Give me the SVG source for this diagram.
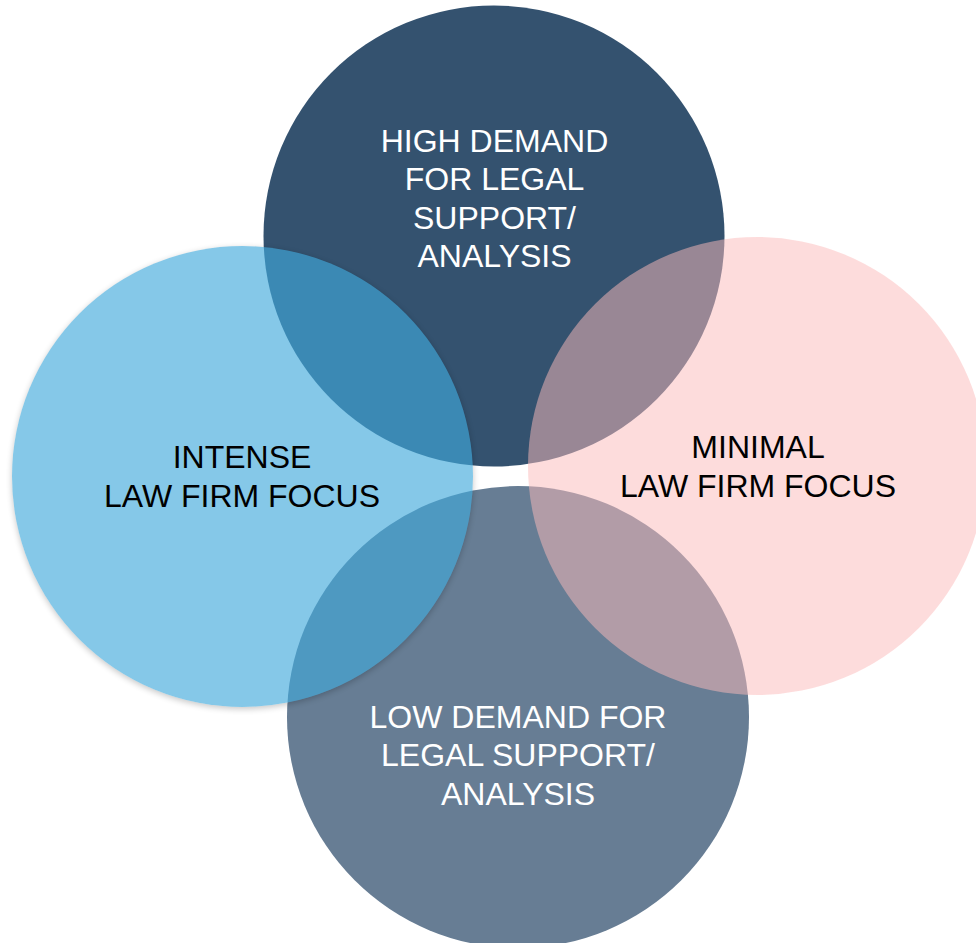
<svg xmlns="http://www.w3.org/2000/svg" width="976" height="943" viewBox="0 0 976 943">
  <style>
    .lbl { font-family: "Liberation Sans", Arial, sans-serif; font-size: 32px; text-anchor: middle; }
    .light { fill: #FFFFFF; }
    .dark { fill: #000000; }
  </style>
  <defs>
    <filter id="soft" x="-20%" y="-20%" width="140%" height="140%">
      <feGaussianBlur stdDeviation="3"/>
    </filter>
    <mask id="outsideLeft" maskUnits="userSpaceOnUse" x="0" y="0" width="976" height="943">
      <rect x="0" y="0" width="976" height="943" fill="#fff"/>
      <circle cx="242.5" cy="476.5" r="230.5" fill="#000"/>
    </mask>
  </defs>
  <rect x="0" y="0" width="976" height="943" fill="#FFFFFF"/>

  <g id="node-high-demand">
    <circle cx="494" cy="236" r="230.5" fill="#34526F"/>
    <text class="lbl light" x="494.5" y="152">HIGH DEMAND</text>
    <text class="lbl light" x="494.5" y="190">FOR LEGAL</text>
    <text class="lbl light" x="494.5" y="229">SUPPORT/</text>
    <text class="lbl light" x="494.5" y="267">ANALYSIS</text>
  </g>

  <g id="node-low-demand">
    <circle cx="518" cy="717" r="231" fill="#677D94"/>
    <text class="lbl light" x="518" y="728">LOW DEMAND FOR</text>
    <text class="lbl light" x="518" y="766">LEGAL SUPPORT/</text>
    <text class="lbl light" x="518" y="805">ANALYSIS</text>
  </g>

  <g id="node-intense">
    <circle cx="242.5" cy="478.5" r="230.5" fill="#000" opacity="0.22" filter="url(#soft)" mask="url(#outsideLeft)"/>
    <circle cx="242.5" cy="476.5" r="230.5" fill="#40A9DB" fill-opacity="0.64"/>
    <text class="lbl dark" x="242" y="468">INTENSE</text>
    <text class="lbl dark" x="242" y="507">LAW FIRM FOCUS</text>
  </g>

  <g id="node-minimal">
    <circle cx="757" cy="466" r="229" fill="#FBBABA" fill-opacity="0.51"/>
    <text class="lbl dark" x="758" y="458">MINIMAL</text>
    <text class="lbl dark" x="758" y="497">LAW FIRM FOCUS</text>
  </g>

  <g id="connectors"></g>
</svg>
